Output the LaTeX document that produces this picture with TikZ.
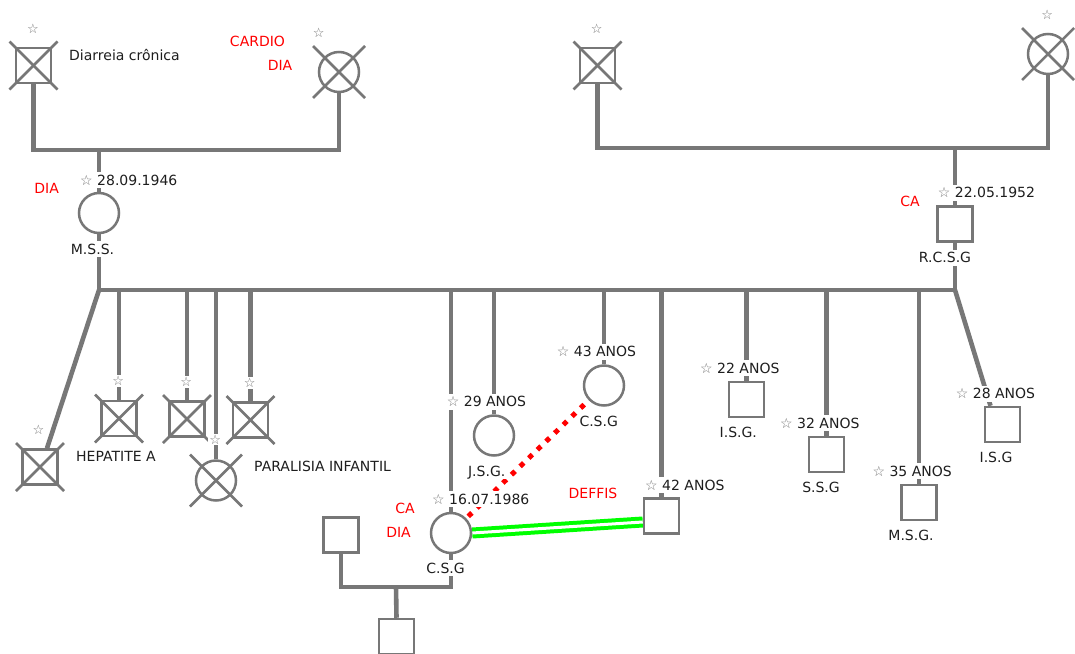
\documentclass[tikz,border=0pt]{standalone}
\usepackage{fontspec}
\setmainfont{DejaVu Sans}
\usetikzlibrary{backgrounds}
\definecolor{gc}{RGB}{119,119,119}
\definecolor{tc}{RGB}{30,30,30}
\definecolor{rc}{RGB}{255,0,0}
\definecolor{grc}{RGB}{0,255,0}
\newcommand\crossmk[2]{%
  \draw[xl] ([shift={(-#2,-#2)}]#1.center) -- ([shift={(#2,#2)}]#1.center);
  \draw[xl] ([shift={(#2,-#2)}]#1.center) -- ([shift={(-#2,#2)}]#1.center);}
\begin{document}
\begin{tikzpicture}[x=1pt,y=-1pt,
  gline/.style={draw=gc, line width=4.6pt},
  shp/.style={draw=gc, line width=2.5pt, fill=white, inner sep=0pt},
  sqr/.style={shp, rectangle, minimum size=35pt},
  cir/.style={shp, circle, minimum size=40pt},
  xl/.style={draw=gc, line width=2.5pt},
  txt/.style={inner sep=1pt, text height=10pt, text depth=0pt, font=\fontsize{14}{16}\selectfont, text=tc},
  lbl/.style={txt, fill=white, inner ysep=3pt},
  rtxt/.style={txt, text=rc},
  sstar/.style={inner sep=1pt, fill=white, text=gc, font=\fontsize{13}{13}\selectfont},
  reddot/.style={draw=rc, line width=5pt, dash pattern=on 5pt off 7pt},
  grdbl/.style={draw=grc, line width=4pt, double=white, double distance=3pt}
]
\useasboundingbox (0,0) rectangle (1075,653);

% ---------- shapes ----------
\node[sqr] (gf1) at (33.5,65.5) {};
\node[cir] (gm1) at (339,72) {};
\node[sqr] (gf2) at (597.5,65.5) {};
\node[cir] (gm2) at (1048,54) {};
\node[cir] (mss) at (99,213) {};
\node[sqr] (rcsg) at (955,224) {};
\node[sqr] (k1) at (40,467) {};
\node[sqr] (k2) at (119,418.5) {};
\node[sqr] (k3) at (187,419) {};
\node[cir] (k4) at (216,480.5) {};
\node[sqr] (k5) at (250.5,420) {};
\node[cir] (csg1) at (451,533) {};
\node[cir] (jsg) at (494,435.5) {};
\node[cir] (csg2) at (604,385.5) {};
\node[sqr] (k9) at (661.5,516) {};
\node[sqr] (k10) at (746.5,399.5) {};
\node[sqr] (k11) at (826.5,454.5) {};
\node[sqr] (k12) at (919,502.5) {};
\node[sqr] (k13) at (1002.5,424.5) {};
\node[sqr] (sp) at (341,535) {};
\node[sqr] (gch) at (396.5,636.5) {};

\crossmk{gf1}{24}
\crossmk{gm1}{26}
\crossmk{gf2}{24}
\crossmk{gm2}{26}
\crossmk{k1}{24}
\crossmk{k2}{24}
\crossmk{k3}{24}
\crossmk{k4}{26}
\crossmk{k5}{24}

\coordinate (j1) at (99,150);
\coordinate (j2) at (955,148);
\coordinate (c0) at (99,290);
\coordinate (c1) at (955,290);
\coordinate (j3) at (396,587);

% ---------- connectors ----------
\begin{pgfonlayer}{background}
\fill[white] (0,0) rectangle (1075,653);
\draw[gline] (gf1.south) |- (j1) -| (gm1.south);
\draw[gline] (j1) -- (mss.north);
\draw[gline] (gf2.south) |- (j2) -| (gm2.south);
\draw[gline] (j2) -- (rcsg.north);
\draw[gline] (mss.south) -- (c0) -- (c1) -- (rcsg.south);
\draw[gline] (c0) -- ([xshift=7pt]k1.north);
\draw[gline] (k2.north |- c0) -- (k2.north);
\draw[gline] (k3.north |- c0) -- (k3.north);
\draw[gline] (k4.north |- c0) -- (k4.north);
\draw[gline] (k5.north |- c0) -- (k5.north);
\draw[gline] (csg1.north |- c0) -- (csg1.north);
\draw[gline] (jsg.north |- c0) -- (jsg.north);
\draw[gline] (csg2.north |- c0) -- (csg2.north);
\draw[gline] (k9.north |- c0) -- (k9.north);
\draw[gline] (k10.north |- c0) -- (k10.north);
\draw[gline] (k11.north |- c0) -- (k11.north);
\draw[gline] (k12.north |- c0) -- (k12.north);
\draw[gline] (c1) -- ([xshift=-12pt]k13.north);
\draw[gline] (sp.south) |- (j3) -| (csg1.south);
\draw[gline] (j3) -- (gch.north);
\draw[reddot] (csg1.center) -- (csg2.center);
\draw[grdbl] (csg1.east) -- ([yshift=-6pt]k9.west);
\end{pgfonlayer}

% ---------- small stars ----------
\node[sstar] (s1) at (33,29) {☆};
\node[sstar] (s2) at (318.7,33) {☆};
\node[sstar] (s3) at (596.7,28.7) {☆};
\node[sstar] (s4) at (1047.3,14.7) {☆};
\node[sstar] (s5) at (38.5,430) {☆};
\node[sstar] (s6) at (118.3,381) {☆};
\node[sstar] (s7) at (186.3,382) {☆};
\node[sstar] (s8) at (215.3,439.7) {☆};
\node[sstar] (s9) at (249.7,383) {☆};

% ---------- dates / ages ----------
\node[lbl, anchor=west] (d1) at (79,180) {{\color{gc}☆} 28.09.1946};
\node[lbl, anchor=west] (d2) at (936.7,192.5) {{\color{gc}☆} 22.05.1952};
\node[lbl, anchor=west] (d3) at (431,499) {{\color{gc}☆} 16.07.1986};
\node[lbl, anchor=west] (d4) at (445.7,401.5) {{\color{gc}☆} 29 ANOS};
\node[lbl, anchor=west] (d5) at (555.7,351.5) {{\color{gc}☆} 43 ANOS};
\node[lbl, anchor=west] (d6) at (644,485) {{\color{gc}☆} 42 ANOS};
\node[lbl, anchor=west] (d7) at (699,368) {{\color{gc}☆} 22 ANOS};
\node[lbl, anchor=west] (d8) at (779,423) {{\color{gc}☆} 32 ANOS};
\node[lbl, anchor=west] (d9) at (871.3,471) {{\color{gc}☆} 35 ANOS};
\node[lbl, anchor=west] (d10) at (954.7,393.5) {{\color{gc}☆} 28 ANOS};

% ---------- names ----------
\node[lbl] (n1) at (92.5,249) {M.S.S.};
\node[lbl] (n2) at (945,257.5) {R.C.S.G};
\node[lbl] (n3) at (445.5,568) {C.S.G};
\node[lbl] (n4) at (486.7,471) {J.S.G.};
\node[lbl] (n5) at (598.7,421) {C.S.G};
\node[lbl] (n6) at (738.3,432.5) {I.S.G.};
\node[lbl] (n7) at (821,487.5) {S.S.G};
\node[lbl] (n8) at (911,535) {M.S.G.};
\node[lbl] (n9) at (996,457.5) {I.S.G};

% ---------- notes ----------
\node[txt, anchor=west] (t1) at (68,55) {Diarreia crônica};
\node[txt, anchor=west] (t2) at (75,456) {HEPATITE A};
\node[txt, anchor=west] (t3) at (253,466) {PARALISIA INFANTIL};
\node[rtxt] (r1) at (257.5,41) {CARDIO};
\node[rtxt] (r2) at (280,65) {DIA};
\node[rtxt] (r3) at (46.7,188) {DIA};
\node[rtxt] (r4) at (910,201) {CA};
\node[rtxt] (r5) at (405,508) {CA};
\node[rtxt] (r6) at (398.5,532) {DIA};
\node[rtxt] (r7) at (593,493.5) {DEFFIS};
\end{tikzpicture}
\end{document}
